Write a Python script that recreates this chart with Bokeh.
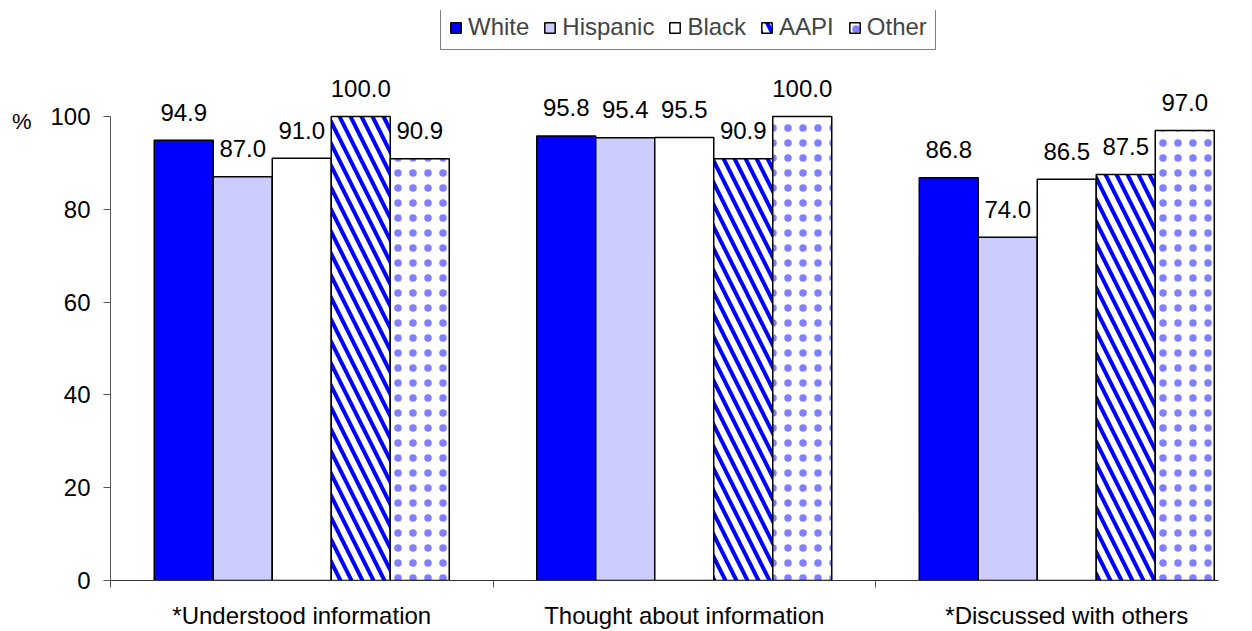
from bokeh.plotting import figure
from bokeh.models import Range1d, FixedTicker, Legend, LegendItem, ColumnDataSource, LinearAxis
from bokeh.core.properties import value
from bokeh.embed import file_html
from bokeh.resources import INLINE

# ---- data ----
categories = ["*Understood information", "Thought about information", "*Discussed with others"]
groups = ["White", "Hispanic", "Black", "AAPI", "Other"]
white = [94.9, 95.8, 86.8]
hispanic = [87.0, 95.4, 74.0]
black = [91.0, 95.5, 86.5]
aapi = [100.0, 90.9, 87.5]
other = [90.9, 100.0, 97.0]
y_ticks = [0, 20, 40, 60, 80, 100]
unit_label = "%"

series = [white, hispanic, black, aapi, other]

# ---- styles ----
FONT = "Liberation Sans"
styles = [
    dict(fill_color="#0000FF"),
    dict(fill_color="#CCCCFF"),
    dict(fill_color="#FFFFFF"),
    dict(fill_color="#FFFFFF", hatch_pattern="\\", hatch_color="#0000FF", hatch_scale=22, hatch_weight=4),
    dict(fill_color="#FFFFFF", hatch_pattern=".", hatch_color="#0000FF", hatch_scale=15,
         hatch_weight=0.3, hatch_alpha=0.5),
]

px_per_unit_x = 382.5
frame_w = 1108
frame_h = 570
bar_w = 59 / px_per_unit_x

p = figure(frame_width=frame_w, frame_height=frame_h,
           x_range=Range1d(0, frame_w / px_per_unit_x),
           y_range=Range1d(0, 100 * frame_h / 464),
           output_backend="svg", toolbar_location=None,
           min_border_left=110, min_border_right=20, min_border_top=10, min_border_bottom=0)
p.outline_line_color = None
p.xgrid.visible = False
p.ygrid.visible = False
p.background_fill_color = "white"

items = []
for i, (g, vals, st) in enumerate(zip(groups, series, styles)):
    xs = [k + 0.5 + (i - 2) * bar_w for k in range(len(categories))]
    src = ColumnDataSource(dict(x=xs, top=vals, lab=[f"{v:.1f}" for v in vals]))
    r = p.vbar(x="x", top="top", bottom=0, width=bar_w, source=src,
               line_color="black", line_width=1.5, **st)
    p.text(x="x", y="top", text="lab", source=src, y_offset=-28,
           text_align="center", text_baseline="middle",
           text_font=value(FONT), text_font_size="24px", text_color="black")
    items.append(LegendItem(label=g, renderers=[r]))

legend = Legend(items=items, orientation="horizontal", location=(330, 530),
                label_text_font=FONT, label_text_font_size="24px",
                glyph_width=13, glyph_height=13, label_standoff=6, spacing=14,
                padding=8, margin=0,
                border_line_color="black", border_line_width=1,
                background_fill_color="white", background_fill_alpha=1)
p.add_layout(legend, "center")

# y axis
ya = p.yaxis[0]
ya.ticker = FixedTicker(ticks=y_ticks)
ya.bounds = (0, 100)
ya.major_tick_out = 7
ya.major_tick_in = 0
ya.minor_tick_out = 0
ya.minor_tick_in = 0
ya.major_label_standoff = 13
ya.major_label_text_font = FONT
ya.major_label_text_font_size = "24px"
ya.major_label_text_color = "black"
ya.axis_line_color = "#555555"
ya.major_tick_line_color = "#555555"

# unit label "%" as an extra, line-less axis further left
ua = LinearAxis(ticker=FixedTicker(ticks=[99]), major_label_overrides={99: unit_label},
                axis_line_color=None, major_tick_line_color=None, minor_tick_line_color=None,
                major_tick_out=0, major_tick_in=0, minor_tick_out=0, minor_tick_in=0,
                major_label_standoff=16, major_label_text_font=FONT,
                major_label_text_font_size="22px", major_label_text_color="black")
p.add_layout(ua, "left")

# x axis
xa = p.xaxis[0]
xa.ticker = FixedTicker(ticks=[0.5, 1.5, 2.5], minor_ticks=[0, 1, 2, 3])
xa.major_label_overrides = {0.5: categories[0], 1.5: categories[1], 2.5: categories[2]}
xa.major_tick_out = 0
xa.major_tick_in = 0
xa.minor_tick_out = 7
xa.minor_tick_in = 0
xa.minor_tick_line_color = "#555555"
xa.major_label_standoff = 14
xa.major_label_text_font = FONT
xa.major_label_text_font_size = "24px"
xa.major_label_text_color = "black"
xa.axis_line_color = "#333333"

open("out.html", "w").write(file_html(p, INLINE))
